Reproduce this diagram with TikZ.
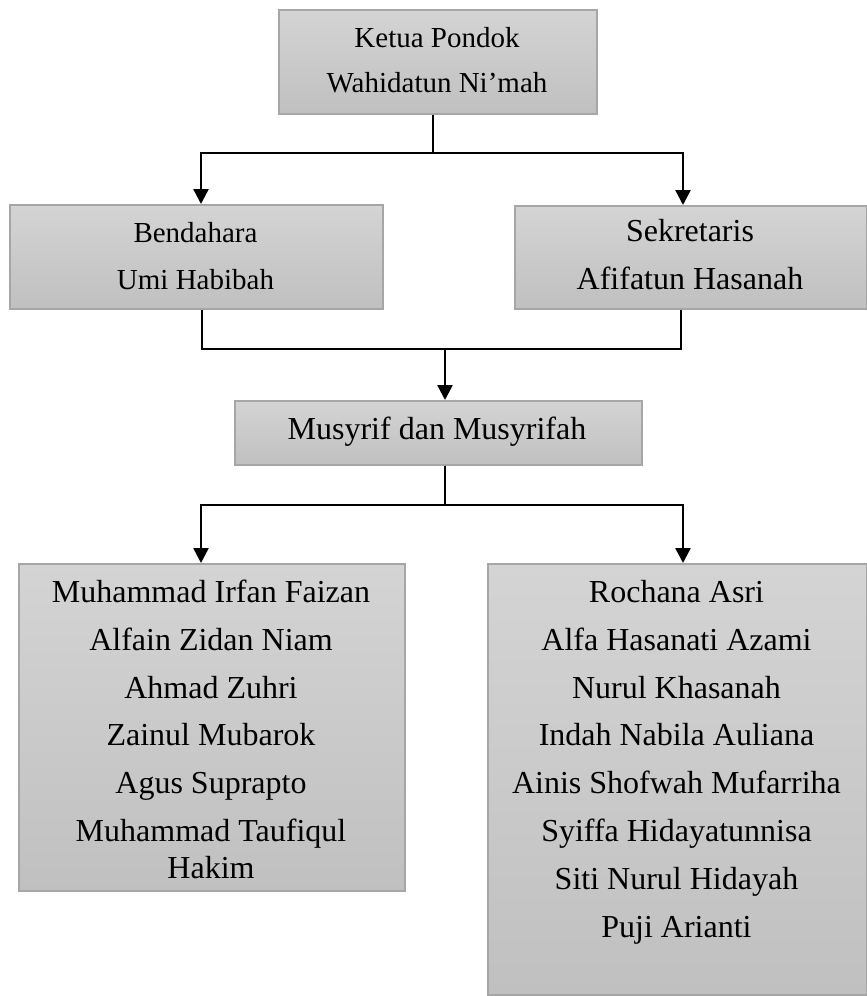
\documentclass[tikz,border=0pt]{standalone}
\usepackage{fontspec}
\setmainfont{Liberation Serif}
\usetikzlibrary{arrows.meta}
\definecolor{boxtop}{HTML}{D4D4D4}
\definecolor{boxbot}{HTML}{C0C0C0}
\definecolor{boxline}{HTML}{A6A6A6}
\begin{document}
\begin{tikzpicture}[x=1pt,y=-1pt,
  box/.style={draw=boxline, line width=1.5pt, top color=boxtop, bottom color=boxbot,
              inner sep=0pt, anchor=north west, shape=rectangle},
  txt/.style={anchor=north, inner sep=0pt, align=center},
  small/.style={font=\fontsize{29pt}{45pt}\selectfont},
  mid/.style={font=\fontsize{29pt}{47pt}\selectfont},
  big/.style={font=\fontsize{32pt}{47.9pt}\selectfont},
  ln/.style={line width=2.5pt, line join=miter},
  arr/.style={ln, -{Triangle[length=15pt,width=15pt]}},
  arrs/.style={ln, {Triangle[length=15pt,width=15pt]}-{Triangle[length=15pt,width=15pt]}}]
\useasboundingbox (0,0) rectangle (867,996);

% boxes
\node[box, minimum width=318pt, minimum height=104pt] (top) at (278,9) {};
\node[box, minimum width=373pt, minimum height=104pt] (bend) at (9,204) {};
\node[box, minimum width=352pt, minimum height=103pt] (sek) at (514,205) {};
\node[box, minimum width=407pt, minimum height=64pt] (mus) at (234,400) {};
\node[box, minimum width=386pt, minimum height=327pt] (lbox) at (18,563) {};
\node[box, minimum width=379pt, minimum height=431pt] (rbox) at (487,563) {};

% texts
\node[txt, small] (toptxt) at (437,15.5) {Ketua Pondok\strut\\Wahidatun Ni’mah\strut};
\node[txt, mid] (bendtxt) at (195.5,209.1) {Bendahara\strut\\Umi Habibah\strut};
\node[txt, big] (sektxt) at (690,207.4) {Sekretaris\strut\\Afifatun Hasanah\strut};
\node[txt, big] (mustxt) at (437,405.4) {Musyrif dan Musyrifah\strut};
\node[txt, big] (ltxt) at (211,568.5) {Muhammad Irfan Faizan\strut\\Alfain Zidan Niam\strut\\Ahmad Zuhri\strut\\Zainul Mubarok\strut\\Agus Suprapto\strut\\Muhammad Taufiqul\strut\\[-11pt]Hakim\strut};
\node[txt, big] (rtxt) at (676.5,568.5) {Rochana Asri\strut\\Alfa Hasanati Azami\strut\\Nurul Khasanah\strut\\Indah Nabila Auliana\strut\\Ainis Shofwah Mufarriha\strut\\Syiffa Hidayatunnisa\strut\\Siti Nurul Hidayah\strut\\Puji Arianti\strut};

% connector coordinates
\coordinate (h1L) at (201,153);
\coordinate (h1R) at (683,153);
\coordinate (h1C) at (433,153);
\coordinate (h2L) at (202,349);
\coordinate (h2R) at (681,349);
\coordinate (h2C) at (445,349);
\coordinate (h3L) at (201,505);
\coordinate (h3R) at (683,505);
\coordinate (h3C) at (445,505);

% level 1
\draw[ln] (h1C |- top.south) -- (h1C);
\draw[arrs] (h1L |- bend.north) -- (h1L) -- (h1R) -- (h1R |- sek.north);
% level 2
\draw[ln] (h2L |- bend.south) -- (h2L) -- (h2R) -- (h2R |- sek.south);
\draw[arr] (h2C) -- (h2C |- mus.north);
% level 3
\draw[ln] (h3C |- mus.south) -- (h3C);
\draw[arrs] (h3L |- lbox.north) -- (h3L) -- (h3R) -- (h3R |- rbox.north);
\end{tikzpicture}
\end{document}
